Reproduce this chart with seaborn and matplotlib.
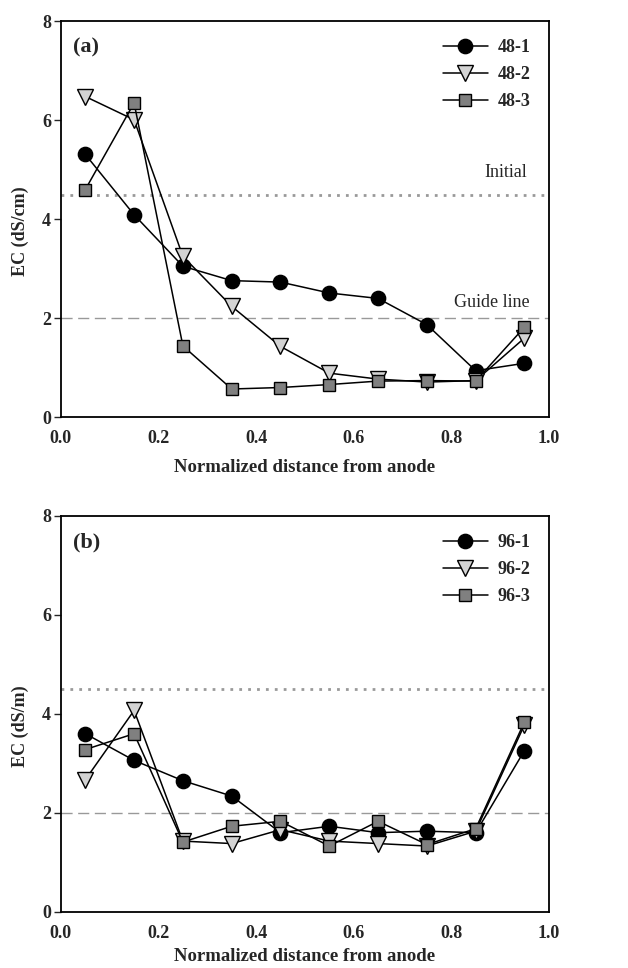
import matplotlib
matplotlib.use("Agg")
import matplotlib.pyplot as plt
import seaborn as sns
import pandas as pd

sns.set_theme(style="white")
plt.rcParams['font.family'] = ['Liberation Serif', 'DejaVu Serif']

x = [0.05, 0.15, 0.25, 0.35, 0.45, 0.55, 0.65, 0.75, 0.85, 0.95]

a_labels = ["48-1", "48-2", "48-3"]
a_1 = [5.31, 4.09, 3.05, 2.76, 2.73, 2.51, 2.40, 1.87, 0.94, 1.09]
a_2 = [6.48, 6.01, 3.25, 2.24, 1.43, 0.89, 0.77, 0.71, 0.74, 1.60]
a_3 = [4.60, 6.35, 1.44, 0.57, 0.60, 0.66, 0.73, 0.74, 0.73, 1.82]

b_labels = ["96-1", "96-2", "96-3"]
b_1 = [3.60, 3.06, 2.65, 2.34, 1.60, 1.73, 1.60, 1.63, 1.60, 3.26]
b_2 = [2.67, 4.07, 1.43, 1.38, 1.66, 1.43, 1.38, 1.33, 1.63, 3.78]
b_3 = [3.28, 3.60, 1.41, 1.73, 1.83, 1.33, 1.83, 1.36, 1.68, 3.84]

initial_level = 4.5
guide_level = 2.0

markers = ["o", "v", "s"]
faces = ["black", "#d3d3d3", "#808080"]
msizes = [10.3, 11, 9.3]

fig = plt.figure(figsize=(6.28, 9.68), dpi=100)
ax_a = fig.add_axes([0.097, 0.569, 0.777, 0.409])
ax_b = fig.add_axes([0.097, 0.058, 0.777, 0.409])

def draw(ax, series, labels, ylabel, tag, annotate, lpad):
    for vals, lab, m, fc, ms in zip(series, labels, markers, faces, msizes):
        df = pd.DataFrame({"x": x, "y": vals})
        sns.lineplot(data=df, x="x", y="y", ax=ax, color="black", lw=1.1,
                     marker=m, markersize=ms, markerfacecolor=fc,
                     markeredgecolor="black", markeredgewidth=1.0, label=lab)
    ax.axhline(initial_level, color="#999999", ls=(0, (1, 2.2)), lw=2.0, zorder=0)
    ax.axhline(guide_level, color="#999999", ls=(0, (8, 4)), lw=1.0, zorder=0)
    ax.set_xlim(0, 1)
    ax.set_ylim(0, 8)
    ax.set_xticks([0, 0.2, 0.4, 0.6, 0.8, 1.0])
    ax.set_xticklabels(["0.0", "0.2", "0.4", "0.6", "0.8", "1.0"])
    ax.set_yticks([0, 2, 4, 6, 8])
    ax.tick_params(axis="x", direction="in", length=5, width=1, labelsize=13, pad=9.5)
    ax.tick_params(axis="y", direction="out", length=5, width=1, labelsize=13, pad=2, left=True)
    for t in ax.get_xticklabels() + ax.get_yticklabels():
        t.set_fontweight("bold")
    for s in ax.spines.values():
        s.set_color("black")
        s.set_linewidth(1.3)
    ax.set_xlabel("Normalized distance from anode", fontsize=13.5, fontweight="bold", labelpad=lpad)
    ax.set_ylabel(ylabel, fontsize=13, fontweight="bold")
    ax.yaxis.set_label_coords(-0.066, 0.47)
    ax.text(0.025, 7.47, tag, fontsize=16, fontweight="bold", va="center", ha="left")
    if annotate:
        ax.text(0.955, 4.95, "Initial", fontsize=13, va="center", ha="right")
        ax.text(0.96, 2.32, "Guide line", fontsize=13, va="center", ha="right")
    ax.legend(loc="upper right", frameon=False, handlelength=2.5,
              prop={"weight": "bold", "size": 13}, borderaxespad=0.6,
              labelspacing=0.55, handletextpad=0.55)
    ax.set_facecolor("white")

draw(ax_a, [a_1, a_2, a_3], a_labels, "EC (dS/cm)", "(a)", True, 8)
draw(ax_b, [b_1, b_2, b_3], b_labels, "EC (dS/m)", "(b)", False, 4)

fig.savefig("out.png", dpi=100, facecolor="white")
